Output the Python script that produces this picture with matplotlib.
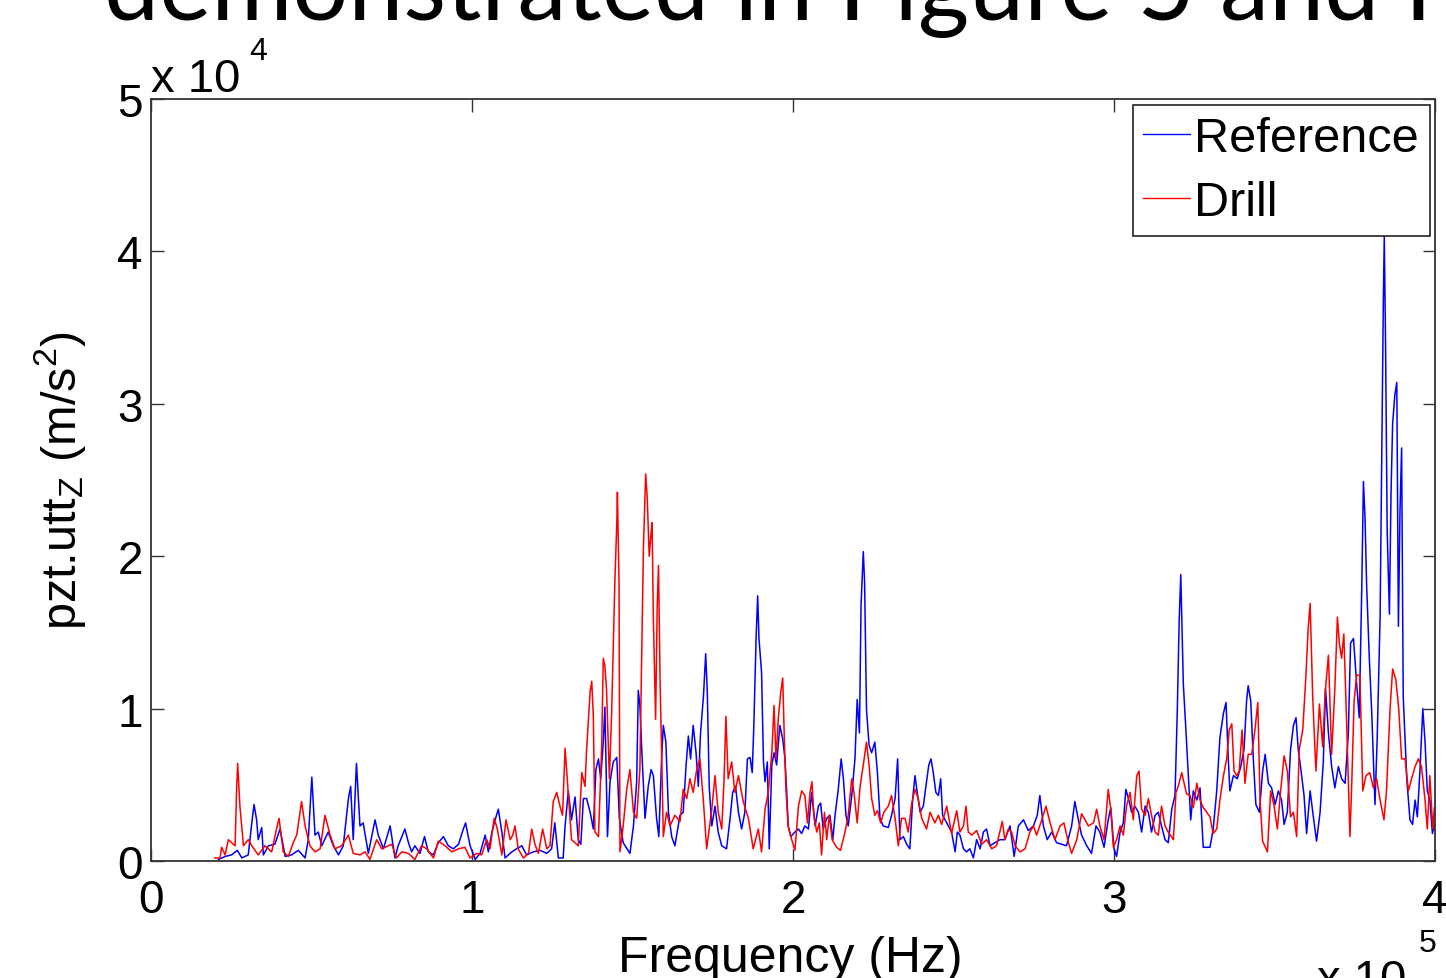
import matplotlib
matplotlib.use("Agg")
import matplotlib.pyplot as plt

# Frequency in units of 1e5 Hz, acceleration in units of 1e4 m/s^2
ref_freq = [0.210, 0.231, 0.251, 0.269, 0.283, 0.303, 0.314, 0.321, 0.329, 0.334, 0.345, 0.350, 0.366, 0.386, 0.402,
            0.418, 0.438, 0.459, 0.480, 0.490, 0.501, 0.511, 0.521, 0.532, 0.552, 0.568, 0.584, 0.599, 0.615, 0.622,
            0.630, 0.640, 0.651, 0.661, 0.677, 0.698, 0.708, 0.724, 0.745, 0.760, 0.770, 0.791, 0.802, 0.812, 0.822,
            0.838, 0.852, 0.864, 0.880, 0.895, 0.911, 0.926, 0.942, 0.958, 0.973, 0.980, 0.994, 1.010, 1.025, 1.041,
            1.051, 1.062, 1.072, 1.082, 1.093, 1.103, 1.124, 1.139, 1.155, 1.170, 1.191, 1.212, 1.233, 1.248, 1.258,
            1.269, 1.284, 1.290, 1.300, 1.310, 1.321, 1.331, 1.339, 1.347, 1.357, 1.368, 1.378, 1.386, 1.394, 1.401,
            1.409, 1.414, 1.422, 1.430, 1.440, 1.451, 1.459, 1.471, 1.492, 1.503, 1.513, 1.518, 1.523, 1.531, 1.539,
            1.549, 1.558, 1.565, 1.575, 1.582, 1.591, 1.596, 1.604, 1.612, 1.622, 1.632, 1.648, 1.658, 1.667, 1.674,
            1.681, 1.689, 1.698, 1.705, 1.712, 1.721, 1.728, 1.733, 1.739, 1.747, 1.757, 1.767, 1.778, 1.793, 1.804,
            1.812, 1.821, 1.830, 1.840, 1.850, 1.858, 1.866, 1.873, 1.878, 1.885, 1.890, 1.894, 1.902, 1.908, 1.913,
            1.920, 1.926, 1.934, 1.941, 1.949, 1.959, 1.968, 1.975, 1.980, 1.985, 1.993, 2.006, 2.017, 2.027, 2.037,
            2.048, 2.058, 2.069, 2.079, 2.086, 2.094, 2.105, 2.115, 2.124, 2.131, 2.141, 2.150, 2.157, 2.165, 2.172,
            2.183, 2.193, 2.200, 2.207, 2.212, 2.219, 2.223, 2.229, 2.237, 2.245, 2.255, 2.263, 2.271, 2.281, 2.297,
            2.307, 2.318, 2.326, 2.333, 2.344, 2.354, 2.364, 2.373, 2.380, 2.387, 2.396, 2.406, 2.414, 2.423, 2.430,
            2.437, 2.445, 2.453, 2.460, 2.466, 2.479, 2.494, 2.505, 2.512, 2.520, 2.531, 2.541, 2.551, 2.562, 2.572,
            2.583, 2.593, 2.603, 2.614, 2.629, 2.645, 2.660, 2.676, 2.689, 2.702, 2.718, 2.733, 2.749, 2.761, 2.769,
            2.780, 2.792, 2.806, 2.821, 2.837, 2.852, 2.868, 2.878, 2.889, 2.899, 2.915, 2.930, 2.944, 2.956, 2.969,
            2.982, 2.990, 3.000, 3.008, 3.019, 3.029, 3.037, 3.045, 3.055, 3.065, 3.076, 3.086, 3.097, 3.107, 3.117,
            3.128, 3.138, 3.148, 3.159, 3.169, 3.180, 3.190, 3.197, 3.203, 3.208, 3.211, 3.216, 3.224, 3.232, 3.239,
            3.247, 3.258, 3.268, 3.278, 3.299, 3.309, 3.320, 3.330, 3.341, 3.349, 3.356, 3.361, 3.372, 3.384, 3.395,
            3.405, 3.413, 3.418, 3.426, 3.434, 3.442, 3.453, 3.463, 3.471, 3.481, 3.491, 3.502, 3.512, 3.522, 3.530,
            3.540, 3.550, 3.559, 3.567, 3.574, 3.581, 3.592, 3.600, 3.611, 3.621, 3.631, 3.642, 3.652, 3.659, 3.668,
            3.678, 3.688, 3.699, 3.709, 3.720, 3.730, 3.737, 3.746, 3.756, 3.764, 3.772, 3.777, 3.782, 3.787, 3.795,
            3.803, 3.813, 3.820, 3.829, 3.834, 3.839, 3.842, 3.846, 3.851, 3.858, 3.863, 3.868, 3.875, 3.881, 3.886,
            3.891, 3.896, 3.901, 3.912, 3.922, 3.930, 3.938, 3.945, 3.953, 3.962, 3.969, 3.976, 3.984, 3.992, 3.998]
ref_acc = [0.01, 0.03, 0.04, 0.07, 0.02, 0.04, 0.25, 0.37, 0.27, 0.14, 0.22, 0.04, 0.10, 0.11, 0.21,
           0.03, 0.04, 0.07, 0.02, 0.14, 0.55, 0.17, 0.19, 0.10, 0.19, 0.10, 0.04, 0.10, 0.41, 0.49,
           0.14, 0.64, 0.23, 0.25, 0.05, 0.27, 0.17, 0.08, 0.23, 0.02, 0.10, 0.21, 0.12, 0.06, 0.10,
           0.05, 0.16, 0.06, 0.04, 0.12, 0.16, 0.10, 0.08, 0.11, 0.21, 0.25, 0.10, 0.01, 0.05, 0.17,
           0.06, 0.19, 0.27, 0.34, 0.19, 0.02, 0.06, 0.08, 0.10, 0.04, 0.06, 0.07, 0.05, 0.08, 0.25,
           0.02, 0.02, 0.23, 0.46, 0.27, 0.42, 0.14, 0.11, 0.41, 0.41, 0.32, 0.21, 0.60, 0.67, 0.54,
           0.78, 1.01, 0.16, 0.52, 0.65, 0.68, 0.28, 0.12, 0.05, 0.23, 0.52, 1.12, 1.02, 0.63, 0.28,
           0.49, 0.60, 0.56, 0.28, 0.16, 0.69, 0.89, 0.78, 0.32, 0.16, 0.10, 0.30, 0.32, 0.63, 0.82,
           0.67, 0.89, 0.71, 0.49, 0.84, 1.08, 1.36, 1.11, 0.49, 0.23, 0.36, 0.19, 0.10, 0.08, 0.28,
           0.45, 0.49, 0.32, 0.21, 0.32, 0.67, 0.68, 0.58, 0.89, 1.46, 1.74, 1.46, 1.24, 0.65, 0.52,
           0.65, 0.08, 0.63, 0.71, 0.63, 0.89, 0.80, 0.67, 0.47, 0.23, 0.16, 0.19, 0.21, 0.18, 0.23,
           0.21, 0.45, 0.23, 0.36, 0.38, 0.21, 0.28, 0.30, 0.14, 0.30, 0.47, 0.67, 0.54, 0.30, 0.23,
           0.43, 0.67, 1.06, 0.84, 1.68, 2.03, 1.83, 0.99, 0.76, 0.71, 0.78, 0.58, 0.28, 0.23, 0.22,
           0.30, 0.41, 0.67, 0.14, 0.16, 0.11, 0.08, 0.41, 0.56, 0.45, 0.32, 0.36, 0.49, 0.63, 0.67,
           0.58, 0.45, 0.43, 0.54, 0.30, 0.25, 0.19, 0.06, 0.19, 0.17, 0.08, 0.06, 0.08, 0.02, 0.14,
           0.08, 0.19, 0.21, 0.10, 0.12, 0.14, 0.14, 0.23, 0.03, 0.23, 0.27, 0.20, 0.23, 0.30, 0.43,
           0.23, 0.14, 0.19, 0.12, 0.11, 0.10, 0.23, 0.39, 0.27, 0.17, 0.10, 0.05, 0.23, 0.19, 0.09,
           0.27, 0.35, 0.08, 0.03, 0.19, 0.25, 0.47, 0.41, 0.32, 0.36, 0.32, 0.19, 0.36, 0.32, 0.19,
           0.30, 0.32, 0.23, 0.14, 0.12, 0.34, 0.43, 0.97, 1.57, 1.88, 1.60, 1.16, 0.86, 0.54, 0.27,
           0.46, 0.40, 0.48, 0.09, 0.09, 0.21, 0.46, 0.81, 0.97, 1.04, 0.67, 0.46, 0.56, 0.54, 0.62,
           0.73, 1.05, 1.15, 1.05, 0.67, 0.37, 0.32, 0.59, 0.70, 0.51, 0.48, 0.37, 0.46, 0.40, 0.24,
           0.32, 0.73, 0.89, 0.94, 0.73, 0.62, 0.43, 0.18, 0.46, 0.29, 0.13, 0.32, 0.65, 1.13, 0.84,
           0.62, 0.48, 0.62, 0.54, 0.51, 0.84, 1.43, 1.46, 1.16, 0.94, 1.81, 2.49, 2.25, 1.81, 1.35,
           0.97, 0.37, 0.81, 1.60, 2.60, 3.66, 4.10, 3.39, 2.17, 1.62, 2.41, 2.87, 3.06, 3.14, 1.54,
           2.30, 2.71, 1.08, 0.54, 0.27, 0.24, 0.40, 0.29, 0.59, 1.00, 0.78, 0.46, 0.40, 0.18, 0.24]

drill_freq = [0.199, 0.215, 0.220, 0.231, 0.241, 0.251, 0.262, 0.267, 0.270, 0.277, 0.288, 0.303, 0.314, 0.334, 0.355,
              0.376, 0.391, 0.399, 0.412, 0.428, 0.443, 0.454, 0.469, 0.480, 0.495, 0.511, 0.527, 0.542, 0.558, 0.573,
              0.594, 0.615, 0.630, 0.651, 0.667, 0.682, 0.703, 0.719, 0.739, 0.750, 0.765, 0.781, 0.802, 0.822, 0.843,
              0.859, 0.880, 0.895, 0.916, 0.937, 0.958, 0.978, 0.994, 1.015, 1.030, 1.046, 1.056, 1.069, 1.079, 1.093,
              1.106, 1.119, 1.127, 1.134, 1.144, 1.160, 1.176, 1.186, 1.196, 1.207, 1.220, 1.233, 1.243, 1.253, 1.264,
              1.274, 1.282, 1.290, 1.310, 1.331, 1.342, 1.352, 1.357, 1.368, 1.373, 1.378, 1.383, 1.394, 1.404, 1.409,
              1.414, 1.419, 1.428, 1.435, 1.440, 1.445, 1.451, 1.453, 1.458, 1.461, 1.471, 1.482, 1.492, 1.503, 1.513,
              1.523, 1.534, 1.541, 1.546, 1.552, 1.557, 1.561, 1.565, 1.572, 1.577, 1.581, 1.586, 1.591, 1.596, 1.606,
              1.617, 1.632, 1.648, 1.658, 1.669, 1.679, 1.689, 1.700, 1.710, 1.721, 1.731, 1.747, 1.757, 1.767, 1.778,
              1.785, 1.791, 1.798, 1.809, 1.819, 1.830, 1.845, 1.861, 1.876, 1.892, 1.902, 1.913, 1.923, 1.934, 1.941,
              1.947, 1.954, 1.962, 1.968, 1.973, 1.978, 1.985, 1.996, 2.006, 2.017, 2.027, 2.037, 2.045, 2.053, 2.059,
              2.065, 2.074, 2.082, 2.089, 2.098, 2.105, 2.113, 2.122, 2.136, 2.148, 2.162, 2.172, 2.183, 2.190, 2.200,
              2.209, 2.219, 2.229, 2.237, 2.245, 2.255, 2.263, 2.273, 2.283, 2.297, 2.307, 2.318, 2.328, 2.338, 2.349,
              2.359, 2.370, 2.380, 2.390, 2.401, 2.416, 2.427, 2.442, 2.453, 2.463, 2.479, 2.494, 2.510, 2.520, 2.531,
              2.539, 2.546, 2.557, 2.572, 2.588, 2.603, 2.619, 2.634, 2.652, 2.660, 2.671, 2.681, 2.692, 2.707, 2.723,
              2.738, 2.749, 2.759, 2.775, 2.788, 2.801, 2.816, 2.832, 2.844, 2.858, 2.868, 2.884, 2.899, 2.910, 2.920,
              2.936, 2.946, 2.956, 2.969, 2.982, 2.990, 2.998, 3.008, 3.019, 3.029, 3.039, 3.050, 3.060, 3.071, 3.078,
              3.086, 3.097, 3.107, 3.117, 3.128, 3.138, 3.148, 3.159, 3.169, 3.185, 3.193, 3.200, 3.211, 3.226, 3.237,
              3.247, 3.258, 3.268, 3.278, 3.289, 3.299, 3.309, 3.320, 3.330, 3.341, 3.351, 3.359, 3.367, 3.374, 3.382,
              3.390, 3.399, 3.408, 3.418, 3.429, 3.439, 3.448, 3.455, 3.463, 3.478, 3.488, 3.498, 3.509, 3.519, 3.530,
              3.540, 3.550, 3.559, 3.569, 3.577, 3.588, 3.598, 3.605, 3.611, 3.619, 3.629, 3.640, 3.650, 3.658, 3.668,
              3.678, 3.688, 3.696, 3.702, 3.709, 3.716, 3.725, 3.735, 3.740, 3.748, 3.756, 3.766, 3.775, 3.785, 3.797,
              3.808, 3.818, 3.829, 3.841, 3.849, 3.860, 3.868, 3.878, 3.887, 3.896, 3.907, 3.917, 3.927, 3.938, 3.948,
              3.958, 3.969, 3.976, 3.984, 3.993, 3.998]
drill_acc = [0.02, 0.02, 0.09, 0.04, 0.14, 0.12, 0.10, 0.49, 0.64, 0.36, 0.10, 0.14, 0.10, 0.04, 0.10,
             0.06, 0.21, 0.28, 0.06, 0.03, 0.12, 0.17, 0.39, 0.23, 0.10, 0.06, 0.08, 0.30, 0.17, 0.08,
             0.10, 0.17, 0.05, 0.04, 0.06, 0.01, 0.14, 0.08, 0.10, 0.11, 0.02, 0.06, 0.05, 0.01, 0.10,
             0.08, 0.02, 0.13, 0.10, 0.06, 0.08, 0.09, 0.02, 0.05, 0.04, 0.14, 0.08, 0.28, 0.21, 0.04,
             0.27, 0.14, 0.17, 0.23, 0.08, 0.02, 0.05, 0.21, 0.11, 0.05, 0.21, 0.08, 0.10, 0.39, 0.45,
             0.36, 0.30, 0.74, 0.14, 0.10, 0.58, 0.49, 0.73, 1.11, 1.18, 0.95, 0.19, 0.16, 0.75, 1.33,
             1.28, 1.13, 0.54, 0.97, 1.41, 1.83, 2.21, 2.42, 1.83, 0.06, 0.23, 0.47, 0.60, 0.32, 0.28,
             0.60, 2.05, 2.54, 2.38, 2.00, 2.13, 2.22, 1.59, 0.93, 1.68, 1.94, 1.17, 0.69, 0.16, 0.32,
             0.23, 0.30, 0.26, 0.47, 0.41, 0.54, 0.45, 0.60, 0.67, 0.39, 0.08, 0.34, 0.56, 0.32, 0.21,
             0.52, 0.95, 0.54, 0.65, 0.45, 0.56, 0.39, 0.28, 0.08, 0.21, 0.06, 0.34, 0.45, 0.71, 1.02,
             0.67, 0.93, 1.11, 1.20, 0.80, 0.47, 0.23, 0.14, 0.07, 0.36, 0.46, 0.43, 0.25, 0.45, 0.52,
             0.30, 0.19, 0.25, 0.04, 0.32, 0.14, 0.30, 0.14, 0.09, 0.07, 0.19, 0.30, 0.54, 0.45, 0.25,
             0.49, 0.63, 0.78, 0.63, 0.41, 0.30, 0.33, 0.25, 0.32, 0.36, 0.43, 0.28, 0.10, 0.28, 0.28,
             0.19, 0.38, 0.47, 0.41, 0.28, 0.21, 0.32, 0.25, 0.30, 0.24, 0.36, 0.18, 0.33, 0.19, 0.23,
             0.36, 0.19, 0.17, 0.20, 0.11, 0.14, 0.08, 0.10, 0.26, 0.14, 0.21, 0.19, 0.10, 0.06, 0.08,
             0.19, 0.23, 0.17, 0.27, 0.36, 0.25, 0.14, 0.23, 0.25, 0.12, 0.05, 0.14, 0.31, 0.27, 0.23,
             0.25, 0.34, 0.23, 0.14, 0.47, 0.34, 0.09, 0.14, 0.23, 0.17, 0.36, 0.45, 0.27, 0.56, 0.59,
             0.34, 0.30, 0.41, 0.30, 0.19, 0.17, 0.36, 0.23, 0.19, 0.14, 0.45, 0.49, 0.58, 0.44, 0.43,
             0.35, 0.51, 0.40, 0.35, 0.32, 0.29, 0.18, 0.21, 0.40, 0.56, 0.67, 0.86, 0.90, 0.59, 0.56,
             0.59, 0.86, 0.51, 0.70, 0.70, 0.86, 1.04, 0.40, 0.13, 0.06, 0.46, 0.37, 0.21, 0.46, 0.69,
             0.59, 0.29, 0.32, 0.16, 0.73, 0.86, 1.22, 1.53, 1.69, 1.08, 0.59, 1.03, 0.75, 1.11, 1.35,
             0.70, 1.13, 1.60, 1.43, 1.33, 1.49, 0.89, 0.16, 0.46, 1.05, 1.22, 1.22, 0.46, 0.56, 0.58,
             0.48, 0.54, 0.40, 0.27, 0.46, 1.00, 1.26, 1.19, 1.00, 0.67, 0.67, 0.46, 0.54, 0.62, 0.67,
             0.62, 0.40, 0.21, 0.56, 0.21, 0.35]

x_ticks = [0, 1, 2, 3, 4]
y_ticks = [0, 1, 2, 3, 4, 5]
series_labels = ["Reference", "Drill"]

FONT = ["Liberation Sans", "DejaVu Sans"]
plt.rcParams["font.family"] = FONT
plt.rcParams["mathtext.fontset"] = "custom"
plt.rcParams["mathtext.rm"] = "Liberation Sans"
plt.rcParams["mathtext.it"] = "Liberation Sans:italic"

W, H = 1446, 979
fig = plt.figure(figsize=(W / 100, H / 100), dpi=100)
fig.patch.set_facecolor("white")

def fx(px):
    return px / W

def fy(py):
    return 1 - py / H

ax = fig.add_axes([fx(151), fy(862), fx(1435) - fx(151), fy(100) - fy(862)])
ax.plot(ref_freq, ref_acc, color=(0, 0, 1), lw=1.1, label=series_labels[0])
ax.plot(drill_freq, drill_acc, color=(1, 0, 0), lw=1.1, label=series_labels[1])

ax.set_xlim(0, 4)
ax.set_ylim(0, 5)
ax.set_xticks(x_ticks)
ax.set_yticks(y_ticks)
ax.set_xticklabels([str(t) for t in x_ticks])
ax.set_yticklabels([str(t) for t in y_ticks])
ax.tick_params(axis="both", direction="in", length=9, width=1.0, color="#333333",
               top=True, right=True, labelsize=33)
ax.tick_params(axis="x", pad=12)
ax.tick_params(axis="y", pad=6)
for s in ax.spines.values():
    s.set_linewidth(1.3)
    s.set_color("#333333")

leg = ax.legend(loc="upper right", bbox_to_anchor=(0.996, 0.992), borderaxespad=0,
                fontsize=35, handlelength=0.95, handletextpad=0.1, borderpad=0.22,
                labelspacing=0.4, fancybox=False, framealpha=1, edgecolor="#222222")
leg.get_frame().set_linewidth(1.2)
for line in leg.get_lines():
    line.set_linewidth(1.0)

ax.set_ylabel(r"pzt.utt$_\mathrm{Z}$ (m/s$^\mathrm{2}$)", fontsize=35)
ax.yaxis.set_label_coords(-(151 - 88) / 1284, 0.5)

fig.text(fx(790), fy(972), "Frequency (Hz)", fontsize=36, ha="center", va="baseline")

# MATLAB-style exponent labels
fig.text(fx(151), fy(92), "x 10", fontsize=34, ha="left", va="baseline")
fig.text(fx(249), fy(60), "4", fontsize=23, ha="left", va="baseline")
fig.text(fx(1317), fy(993), "x 10", fontsize=34, ha="left", va="baseline")
fig.text(fx(1419), fy(952), "5", fontsize=23, ha="left", va="baseline")

# Slide caption cut off at the top
fig.text(fx(104), fy(20), "demonstrated in Figure 5 and Fig", fontsize=71,
         family=["Lato", "DejaVu Sans"], ha="left", va="baseline")

fig.savefig("out.png", dpi=100, facecolor="white")
